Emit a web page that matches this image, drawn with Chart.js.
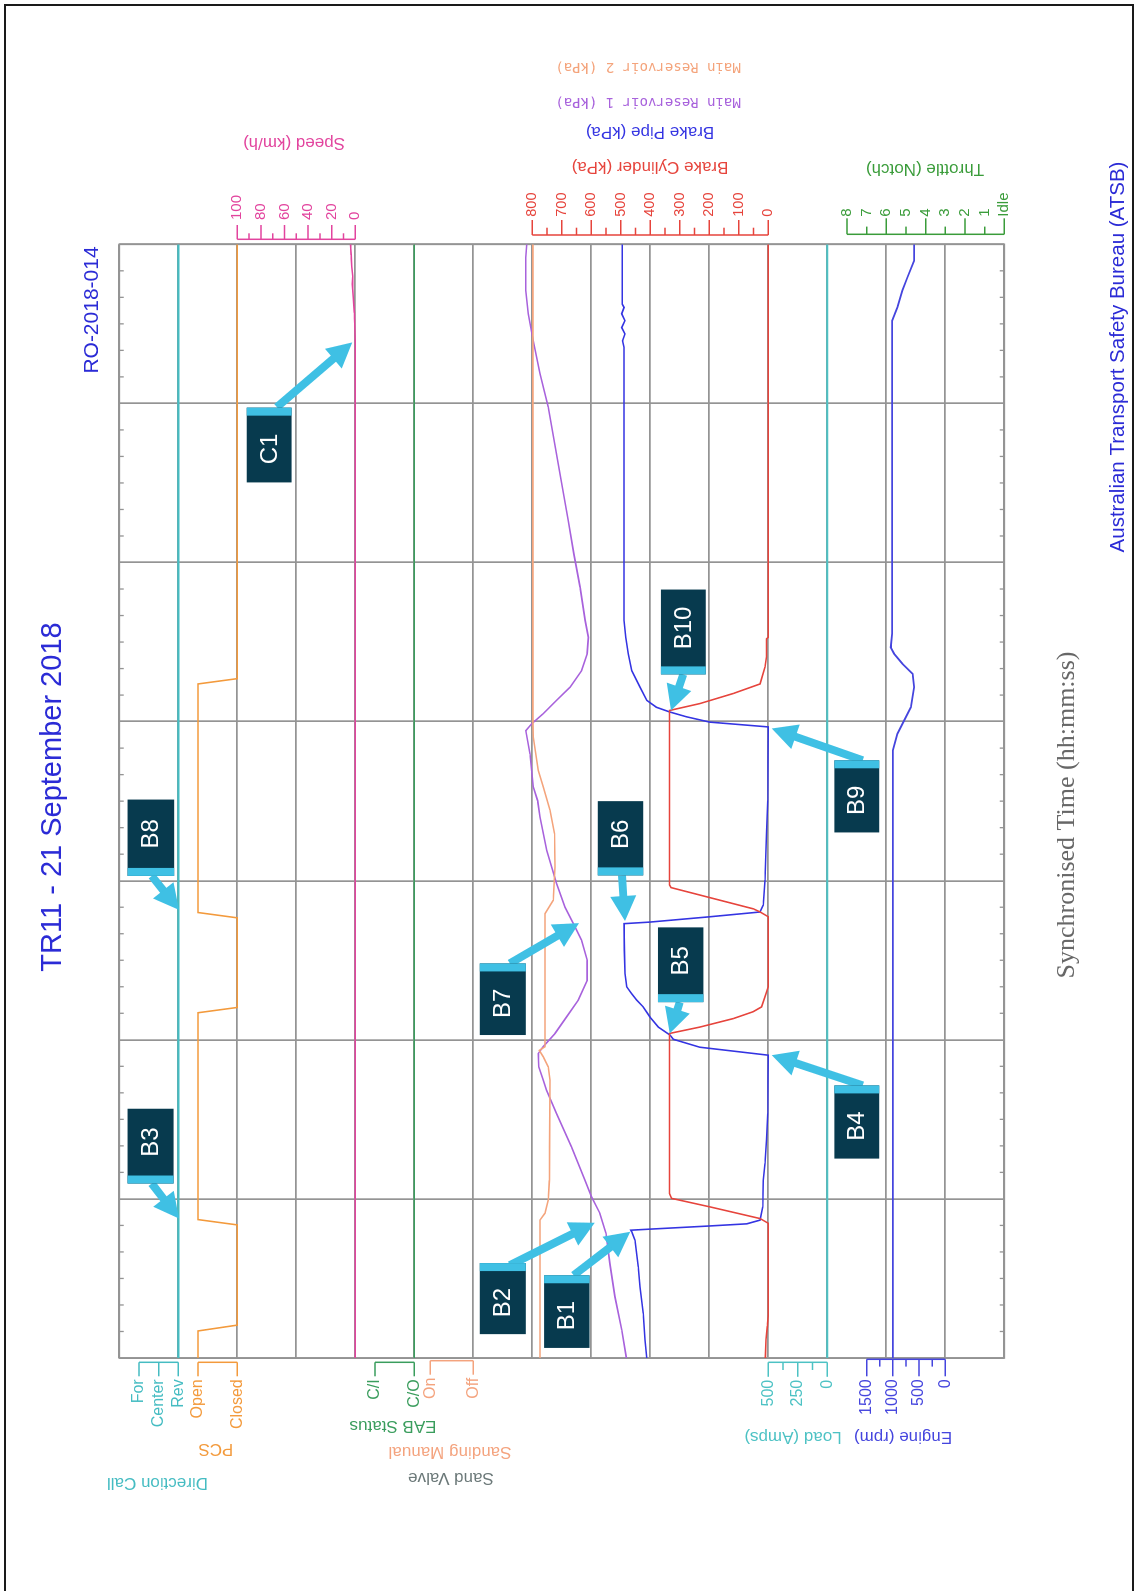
<!DOCTYPE html>
<html>
<head>
<meta charset="utf-8">
<title>TR11 - 21 September 2018</title>
<script src="https://cdn.jsdelivr.net/npm/chart.js@4.4.1/dist/chart.umd.min.js"></script>
<style>
  html, body { margin: 0; padding: 0; background: #ffffff; overflow: hidden; }
  body { width: 1136px; height: 1591px; position: relative; }
  #frame { position: absolute; left: 4px; top: 4px; width: 1130px; height: 1600px; border: 2px solid #1a1a1a; box-sizing: border-box; }
  /* the recorder sheet is laid out landscape and turned a quarter turn anticlockwise */
  #sheet { position: absolute; left: 0; top: 0; width: 1591px; height: 1136px; transform-origin: 0 0; transform: translateY(1591px) rotate(-90deg); }
  #sheet canvas { display: block; width: 1591px; height: 1136px; }
</style>
</head>
<body>
<div id="frame"></div>
<div id="sheet"><canvas id="rec" width="1591" height="1136"></canvas></div>
<script>
// ---- time base: seconds after 08:43:30 ----
const timeLabels = ['08:43:30', '08:44:00', '08:44:30', '08:45:00', '08:45:30', '08:46:00', '08:46:30', '08:47:00'];

// ---- discrete channel states and axis ticks ----
const directionStates = ['Rev', 'Center', 'For'];
const pcsStates = ['Closed', 'Open'];
const eabStates = ['C/O', 'C/I'];
const sandingStates = ['Off', 'On'];
const throttleNotches = ['Idle', '1', '2', '3', '4', '5', '6', '7', '8'];
const speedTicks = [0, 20, 40, 60, 80, 100];
const kpaTicks = [0, 100, 200, 300, 400, 500, 600, 700, 800];
const loadTicks = [0, 250, 500];
const engineTicks = [0, 500, 1000, 1500];

// ---- recorded channels ----
const directionTime = [0, 210];
const directionCall = ['Rev', 'Rev'];

const pcsTime = [0, 5.1, 6.2, 25.1, 26.1, 65.1, 66.1, 83.0, 84.0, 127.1, 128.1, 210];
const pcsState = ['Open', 'Open', 'Closed', 'Closed', 'Open', 'Open', 'Closed', 'Closed', 'Open', 'Open', 'Closed', 'Closed'];

const speedTime = [0, 191.7, 195.0, 197.1, 200.0, 202.5, 204.0, 205.8, 208.0, 209.2, 210];
const speedKmh = [0, 0, 0.5, 0.8, 1.8, 2.5, 2.2, 3.0, 3.5, 3.9, 4.0];

const eabTime = [0, 210];
const eabState = ['C/O', 'C/O'];

const bcTime = [0, 3.5, 6, 8, 25.4, 26.3, 28.5, 30.1, 31.0, 61.2, 62.4, 64.0, 65.3, 66.2, 68.7, 70.0,
  83.2, 84.1, 84.7, 88.7, 89.2, 122.1, 123.4, 125.3, 127.1, 130.3, 132.2, 135.6, 135.9, 210];
const bcKpa = [10, 8, 3, 0, 0, 28, 198, 328, 335, 335, 232, 119, 51, 23, 8, 0,
  0, 28, 51, 330, 335, 335, 232, 119, 28, 11, 6, 6, 0, 0];

const bpTime = [0, 3.4, 8.4, 13.4, 17.2, 22.2, 23.8, 24.1, 24.3, 24.9, 25.3, 26.0, 28.5, 33.5, 36.7, 41.1,
  46.1, 52.4, 57.1, 58.6, 60.1, 60.9, 62.4, 64.3, 66.2, 67.5, 68.7, 70.0, 72.5, 76.9, 81.9, 82.2, 83.2,
  84.1, 85.4, 90.1, 98.9, 105.1, 119.0, 119.9, 120.9, 121.8, 122.7, 124.0, 126.5, 129.6, 132.8, 135.9,
  139.1, 190.6, 191.8, 193.1, 194.3, 195.6, 196.9, 198.1, 198.7, 210];
const bpKpa = [412, 418, 424, 435, 441, 452, 463, 466, 401, 198, 73, 28, 19, 17, 11, 6,
  2, 1, 0, 232, 322, 333, 373, 401, 424, 446, 463, 480, 486, 488, 489, 401, 198,
  28, 17, 11, 6, 2, 0, 198, 277, 333, 379, 412, 435, 463, 475, 483,
  489, 489, 494, 486, 497, 486, 497, 489, 495, 495];

const mr1Time = [0, 5.3, 11.6, 17.8, 23.5, 27.3, 30.4, 33.5, 39.8, 46.1, 50.5, 52.4, 54.9, 57.4, 58.7,
  61.2, 64.3, 67.5, 71.2, 75.0, 78.8, 81.3, 85.0, 89.5, 95.7, 102.0, 105.1, 107.7, 113.9, 118.3, 119.6,
  121.5, 124.0, 126.5, 129.6, 132.8, 135.9, 139.1, 145.3, 151.6, 157.9, 166.7, 179.3, 185.6, 191.8,
  196.9, 201.3, 207.5, 210];
const mr1Kpa = [481, 497, 520, 537, 550, 571, 599, 621, 667, 718, 752, 763, 778, 780, 763,
  723, 684, 644, 614, 614, 633, 655, 689, 718, 751, 774, 782, 797, 808, 822, 802,
  763, 718, 672, 633, 614, 610, 621, 638, 659, 678, 706, 746, 774, 797,
  814, 822, 822, 819];

const mr2Time = [0, 26.0, 27.3, 29.8, 33.5, 52.4, 54.9, 56.8, 58.0, 58.7, 83.8, 86.3, 92.6, 98.9,
  103.3, 107.7, 110.8, 117.1, 120.2, 210];
const mr2Kpa = [774, 774, 757, 746, 742, 740, 746, 763, 776, 757, 757, 729, 723, 725,
  740, 763, 780, 797, 798, 798];

const loadTime = [0, 210];
const loadAmps = [0, 0];

const engineTime = [0, 114.6, 117.7, 120.2, 122.7, 126.5, 129.0, 130.9, 132.8, 134.0, 136.6, 195.6,
  198.1, 201.3, 203.8, 206.9, 210];
const engineRpm = [1000, 1000, 913, 785, 657, 593, 625, 817, 976, 1040, 1015, 1015,
  913, 817, 721, 593, 593];

// ---- drawing constants ----
const W = 1591, H = 1136, ROWS = 15;
const AREA = { left: 233, right: 1346.7, top: 119.3, bottom: 1004.3 };
const SANS = '"Liberation Sans", Arial, Helvetica, sans-serif';
const SERIF = '"Liberation Serif", "Times New Roman", serif';
const MONO = '"DejaVu Sans Mono", monospace';
const BLUE = '#2b2bd6';
const COL = {
  dir: '#45bcc2', pcs: '#f39a3c', speed: '#e2449e', eab: '#3a9d5d', sand: '#f4a37e',
  sandValve: '#6b7878', bc: '#e6443c', bp: '#3434e2', mr1: '#a862dc', mr2: '#f4a47c',
  load: '#4dc2c4', engine: '#4545de', throttle: '#3a9c3a', grid: '#949494'
};

// value range that puts topVal on row topRow and botVal on row botRow of the 15-row grid
function band(topVal, topRow, botVal, botRow) {
  const perRow = (topVal - botVal) / (botRow - topRow);
  return { min: botVal - (ROWS - botRow) * perRow, max: topVal + topRow * perRow };
}
function hiddenAxis(range) {
  return Object.assign({ type: 'linear', axis: 'y', display: false }, range);
}
function series(times, values, codes) {
  return times.map((t, i) => ({ x: t, y: codes ? codes.indexOf(values[i]) : values[i] }));
}
function lineSet(label, data, axis, color, width) {
  return { label, data, yAxisID: axis, borderColor: color, borderWidth: width || 1.6,
    pointRadius: 0, tension: 0, fill: false };
}
function withMinors(majors) {
  const out = majors.map(v => ({ value: v, label: String(v), major: true }));
  for (let i = 0; i < majors.length - 1; i++) {
    out.push({ value: (majors[i] + majors[i + 1]) / 2, label: '', major: false });
  }
  return out;
}

// ---- axis brackets drawn beside the plot ----
const brackets = [
  { scale: 'yDir', side: 'left', gap: 4.3, major: 14, minor: 7, lg: 3, size: 16, color: COL.dir,
    marks: directionStates.map((s, i) => ({ value: i, label: s, major: true })) },
  { scale: 'yPcs', side: 'left', gap: 4.3, major: 14, minor: 7, lg: 3, size: 16, color: COL.pcs,
    marks: pcsStates.map((s, i) => ({ value: i, label: s, major: true })) },
  { scale: 'yEab', side: 'left', gap: 4.3, major: 14, minor: 7, lg: 3, size: 16, color: COL.eab,
    marks: eabStates.map((s, i) => ({ value: i, label: s, major: true })) },
  { scale: 'ySand', side: 'left', gap: 2.7, major: 14, minor: 7, lg: 3, size: 16, color: COL.sand,
    marks: sandingStates.map((s, i) => ({ value: i, label: s, major: true })) },
  { scale: 'yLoad', side: 'left', gap: 4.3, major: 14.5, minor: 7.7, lg: 3, size: 16, color: COL.load,
    marks: withMinors(loadTicks) },
  { scale: 'yEng', side: 'left', gap: 1.3, major: 17, minor: 7.3, lg: 3, size: 16, color: COL.engine,
    marks: withMinors(engineTicks) },
  { scale: 'ySpeed', side: 'right', gap: 5, major: 14.3, minor: 6, lg: 5, size: 15, color: COL.speed,
    marks: withMinors(speedTicks) },
  { scale: 'yKpa', side: 'right', gap: 9.3, major: 15, minor: 7.3, lg: 3.3, size: 14.5, color: COL.bc,
    marks: withMinors(kpaTicks) },
  { scale: 'yThr', side: 'right', gap: 10, major: 16, minor: 7.7, lg: 1.6, size: 15, color: COL.throttle,
    marks: throttleNotches.map((s, i) => ({ value: i, label: s, major: i % 2 === 0 })) }
];

// ---- free text on the sheet (u along the time direction, v across) ----
const sheetTexts = [
  { text: 'TR11 - 21 September 2018', u: 794, v: 53, size: 29, color: BLUE, rot: 0 },
  { text: 'RO-2018-014', u: 1281, v: 92, size: 21, color: BLUE, rot: 0 },
  { text: 'Australian Transport Safety Bureau (ATSB)', u: 1234, v: 1118, size: 20.5, color: BLUE, rot: 0 },
  { text: 'Synchronised Time (hh:mm:ss)', u: 776, v: 1067, size: 26, color: '#676767', family: SERIF, rot: 0 },
  { text: 'Direction Call', u: 108.5, v: 157.5, size: 17, color: COL.dir, rot: -90 },
  { text: 'PCS', u: 142, v: 215.8, size: 17, color: COL.pcs, rot: -90 },
  { text: 'EAB Status', u: 165, v: 393, size: 17, color: COL.eab, rot: -90 },
  { text: 'Sanding Manual', u: 139.5, v: 450, size: 17, color: COL.sand, rot: -90 },
  { text: 'Sand Valve', u: 113, v: 451, size: 17, color: COL.sandValve, rot: -90 },
  { text: 'Load (Amps)', u: 154.5, v: 793, size: 17, color: COL.load, rot: -90 },
  { text: 'Engine (rpm)', u: 154.5, v: 903, size: 17, color: COL.engine, rot: -90 },
  { text: 'Speed (km/h)', u: 1448, v: 294, size: 17, color: COL.speed, rot: -90 },
  { text: 'Brake Cylinder (kPa)', u: 1424.3, v: 650, size: 17, color: COL.bc, rot: -90 },
  { text: 'Brake Pipe (kPa)', u: 1459.3, v: 650, size: 17, color: COL.bp, rot: -90 },
  { text: 'Main Reservoir 1 (kPa)', u: 1489.3, v: 648, size: 14, color: COL.mr1, family: MONO, rot: -90 },
  { text: 'Main Reservoir 2 (kPa)', u: 1524.3, v: 648, size: 14, color: COL.mr2, family: MONO, rot: -90 },
  { text: 'Throttle (Notch)', u: 1422.7, v: 925, size: 17, color: COL.throttle, rot: -90 }
];

// ---- event callouts: box given as [t0, t1, row0, row1], arrows as [time, row] ----
const callouts = [
  { text: 'C1', box: [165.1, 179.2, 2.16, 2.92], bar: 'late', tail: [179.3, 2.67], tip: [191.5, 3.95] },
  { text: 'B8', box: [90.9, 105.3, 0.14, 0.93], bar: 'early', tail: [90.9, 0.55], tip: [84.5, 1.01] },
  { text: 'B3', box: [32.9, 47.0, 0.14, 0.92], bar: 'early', tail: [32.9, 0.55], tip: [26.3, 1.01] },
  { text: 'B7', box: [60.9, 74.4, 6.11, 6.89], bar: 'late', tail: [74.4, 6.62], tip: [82.0, 7.79] },
  { text: 'B6', box: [91.0, 105.0, 8.11, 8.88], bar: 'early', tail: [91.0, 8.52], tip: [82.4, 8.57] },
  { text: 'B5', box: [67.1, 81.2, 9.13, 9.90], bar: 'early', tail: [67.1, 9.50], tip: [61.2, 9.33] },
  { text: 'B10', box: [128.9, 144.9, 9.18, 9.94], bar: 'early', tail: [128.9, 9.56], tip: [122.1, 9.35] },
  { text: 'B9', box: [99.1, 112.7, 12.12, 12.88], bar: 'late', tail: [112.7, 12.6], tip: [118.7, 11.06] },
  { text: 'B4', box: [37.6, 51.4, 12.12, 12.88], bar: 'late', tail: [51.4, 12.6], tip: [57.1, 11.06] },
  { text: 'B2', box: [4.5, 17.9, 6.11, 6.89], bar: 'late', tail: [17.5, 6.62], tip: [25.5, 8.06] },
  { text: 'B1', box: [1.9, 15.6, 7.20, 7.97], bar: 'late', tail: [15.6, 7.70], tip: [23.8, 8.66] }
];

// plot frame and the 5-second minor ticks along both long edges
const framePlugin = {
  id: 'frame',
  beforeDatasetsDraw(chart) {
    const { ctx, chartArea: a, scales } = chart;
    ctx.save();
    ctx.strokeStyle = COL.grid;
    ctx.lineWidth = 1.7;
    ctx.strokeRect(a.left, a.top, a.right - a.left, a.bottom - a.top);
    ctx.lineWidth = 1.3;
    ctx.beginPath();
    for (let t = 5; t < 210; t += 5) {
      if (t % 30 === 0) continue;
      const u = scales.x.getPixelForValue(t);
      ctx.moveTo(u, a.top); ctx.lineTo(u, a.top + 4.5);
      ctx.moveTo(u, a.bottom); ctx.lineTo(u, a.bottom - 4.5);
    }
    ctx.stroke();
    ctx.restore();
  }
};

function drawArrow(ctx, x0, y0, x1, y1) {
  const ang = Math.atan2(y1 - y0, x1 - x0);
  const head = 25, half = 13;
  const bx = x1 - head * Math.cos(ang), by = y1 - head * Math.sin(ang);
  ctx.lineWidth = 8;
  ctx.lineCap = 'butt';
  ctx.beginPath(); ctx.moveTo(x0, y0); ctx.lineTo(bx + Math.cos(ang), by + Math.sin(ang)); ctx.stroke();
  ctx.beginPath();
  ctx.moveTo(x1, y1);
  ctx.lineTo(bx + half * Math.sin(ang), by - half * Math.cos(ang));
  ctx.lineTo(bx - half * Math.sin(ang), by + half * Math.cos(ang));
  ctx.closePath(); ctx.fill();
}

const calloutPlugin = {
  id: 'callouts',
  afterDatasetsDraw(chart) {
    const { ctx, scales } = chart;
    const X = t => scales.x.getPixelForValue(t);
    const R = k => scales.grid.getPixelForValue(k);
    ctx.save();
    callouts.forEach(c => {
      ctx.strokeStyle = '#3fc0e4'; ctx.fillStyle = '#3fc0e4';
      drawArrow(ctx, X(c.tail[0]), R(c.tail[1]), X(c.tip[0]), R(c.tip[1]));
      const u0 = X(c.box[0]), u1 = X(c.box[1]), v0 = R(c.box[2]), v1 = R(c.box[3]);
      ctx.fillStyle = '#073a4e';
      ctx.fillRect(u0, v0, u1 - u0, v1 - v0);
      const barW = 8;
      ctx.fillStyle = '#3fc0e4';
      if (c.bar === 'late') ctx.fillRect(u1 - barW, v0, barW, v1 - v0);
      else ctx.fillRect(u0, v0, barW, v1 - v0);
      const cu = c.bar === 'late' ? (u0 + u1 - barW) / 2 : (u0 + barW + u1) / 2;
      ctx.fillStyle = '#ffffff';
      ctx.font = '24px ' + SANS;
      ctx.textAlign = 'center'; ctx.textBaseline = 'middle';
      ctx.fillText(c.text, cu, (v0 + v1) / 2 + 1);
    });
    ctx.restore();
  }
};

const bracketPlugin = {
  id: 'brackets',
  afterDraw(chart) {
    const { ctx, chartArea: a, scales } = chart;
    ctx.save();
    brackets.forEach(b => {
      const s = scales[b.scale];
      const dir = b.side === 'left' ? -1 : 1;
      const base = b.side === 'left' ? a.left - b.gap : a.right + b.gap;
      const ys = b.marks.map(m => s.getPixelForValue(m.value));
      ctx.strokeStyle = b.color; ctx.fillStyle = b.color; ctx.lineWidth = 1.5;
      ctx.beginPath();
      ctx.moveTo(base, Math.min(...ys)); ctx.lineTo(base, Math.max(...ys));
      b.marks.forEach((m, i) => {
        ctx.moveTo(base, ys[i]); ctx.lineTo(base + dir * (m.major ? b.major : b.minor), ys[i]);
      });
      ctx.stroke();
      ctx.font = b.size + 'px ' + SANS;
      ctx.textBaseline = 'middle';
      ctx.textAlign = b.side === 'left' ? 'right' : 'left';
      b.marks.forEach((m, i) => {
        if (m.label) ctx.fillText(m.label, base + dir * (b.major + b.lg), ys[i]);
      });
    });
    sheetTexts.forEach(t => {
      ctx.save();
      ctx.translate(t.u, t.v);
      ctx.rotate(t.rot * Math.PI / 180);
      ctx.font = t.size + 'px ' + (t.family || SANS);
      ctx.fillStyle = t.color;
      ctx.textAlign = 'center'; ctx.textBaseline = 'middle';
      ctx.fillText(t.text, 0, 0);
      ctx.restore();
    });
    ctx.restore();
  }
};

new Chart(document.getElementById('rec'), {
  type: 'line',
  data: {
    datasets: [
      lineSet('Direction Call', series(directionTime, directionCall, directionStates), 'yDir', COL.dir, 2.2),
      lineSet('PCS', series(pcsTime, pcsState, pcsStates), 'yPcs', COL.pcs, 1.6),
      lineSet('Speed (km/h)', series(speedTime, speedKmh), 'ySpeed', COL.speed, 1.6),
      lineSet('EAB Status', series(eabTime, eabState, eabStates), 'yEab', COL.eab, 1.6),
      lineSet('Load (Amps)', series(loadTime, loadAmps), 'yLoad', COL.load, 2),
      lineSet('Engine (rpm)', series(engineTime, engineRpm), 'yEng', COL.engine, 1.8),
      lineSet('Main Reservoir 2 (kPa)', series(mr2Time, mr2Kpa), 'yKpa', COL.mr2, 1.6),
      lineSet('Main Reservoir 1 (kPa)', series(mr1Time, mr1Kpa), 'yKpa', COL.mr1, 1.6),
      lineSet('Brake Cylinder (kPa)', series(bcTime, bcKpa), 'yKpa', COL.bc, 1.6),
      lineSet('Brake Pipe (kPa)', series(bpTime, bpKpa), 'yKpa', COL.bp, 1.6)
    ]
  },
  options: {
    responsive: false,
    animation: false,
    devicePixelRatio: 1,
    events: [],
    layout: { padding: { left: AREA.left, right: W - AREA.right, top: AREA.top, bottom: H - AREA.bottom } },
    plugins: { legend: { display: false }, tooltip: { enabled: false }, title: { display: false } },
    scales: {
      x: {
        type: 'linear', position: 'bottom', min: 0, max: 210,
        afterFit(s) { s.height = 0; },
        ticks: {
          stepSize: 30, autoSkip: false, maxRotation: 0, minRotation: 0, padding: 5,
          color: '#5e5e5e', font: { family: SERIF, size: 26 },
          callback: v => timeLabels[Math.round(v / 30)]
        },
        grid: { color: COL.grid, lineWidth: 1.7, drawTicks: false },
        border: { display: false }
      },
      grid: {
        type: 'linear', axis: 'y', position: 'left', min: 0, max: ROWS, reverse: true,
        afterFit(s) { s.width = 0; },
        ticks: { display: false, stepSize: 1 },
        grid: { color: COL.grid, lineWidth: 1.7, drawTicks: false },
        border: { display: false }
      },
      yDir: hiddenAxis(band(2, 1 / 3, 0, 1)),
      yPcs: hiddenAxis(band(1, 4 / 3, 0, 2)),
      ySpeed: hiddenAxis(band(100, 2, 0, 4)),
      yEab: hiddenAxis(band(1, 13 / 3, 0, 5)),
      ySand: hiddenAxis(band(1, 5.27, 0, 6)),
      yKpa: hiddenAxis(band(800, 7, 0, 11)),
      yLoad: hiddenAxis(band(500, 11, 0, 12)),
      yEng: hiddenAxis(band(1500, 38 / 3, 0, 14)),
      yThr: hiddenAxis(band(8, 37 / 3, 0, 15))
    }
  },
  plugins: [framePlugin, calloutPlugin, bracketPlugin]
});
</script>
</body>
</html>
